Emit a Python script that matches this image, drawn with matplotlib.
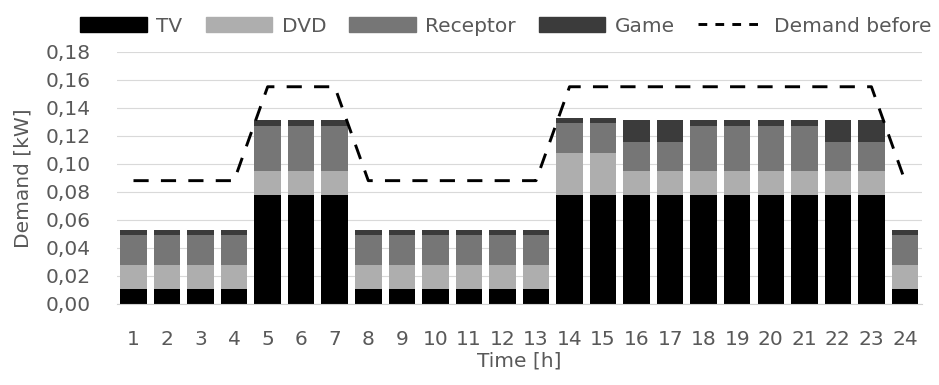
import numpy as np
import matplotlib.pyplot as plt
from matplotlib.patches import Patch
from matplotlib.lines import Line2D

hours = list(range(1, 25))

# appliance demand per hour [kW]
tv = [0.0105, 0.0105, 0.0105, 0.0105, 0.078, 0.078, 0.078, 0.0105,
      0.0105, 0.0105, 0.0105, 0.0105, 0.0105, 0.078, 0.078, 0.078,
      0.078, 0.078, 0.078, 0.078, 0.078, 0.078, 0.078, 0.0105]
dvd = [0.0175, 0.0175, 0.0175, 0.0175, 0.0166, 0.0166, 0.0166, 0.0175,
       0.0175, 0.0175, 0.0175, 0.0175, 0.0175, 0.0297, 0.0297, 0.0166,
       0.0166, 0.0166, 0.0166, 0.0166, 0.0166, 0.0166, 0.0166, 0.0175]
receptor = [0.0212, 0.0212, 0.0212, 0.0212, 0.0323, 0.0323, 0.0323, 0.0212,
            0.0212, 0.0212, 0.0212, 0.0212, 0.0212, 0.0216, 0.0216, 0.0211,
            0.0211, 0.0321, 0.0321, 0.0321, 0.0321, 0.0211, 0.0211, 0.0212]
game = [0.0036, 0.0036, 0.0036, 0.0036, 0.0041, 0.0041, 0.0041, 0.0036,
        0.0036, 0.0036, 0.0036, 0.0036, 0.0036, 0.0036, 0.0036, 0.0153,
        0.0153, 0.0043, 0.0043, 0.0043, 0.0043, 0.0153, 0.0153, 0.0036]
demand_before = [0.088, 0.088, 0.088, 0.088, 0.155, 0.155, 0.155, 0.088,
                 0.088, 0.088, 0.088, 0.088, 0.088, 0.155, 0.155, 0.155,
                 0.155, 0.155, 0.155, 0.155, 0.155, 0.155, 0.155, 0.088]

series = [tv, dvd, receptor, game]
names = ['TV', 'DVD', 'Receptor', 'Game']
colors = ['#000000', '#AEAEAE', '#767676', '#3B3B3B']

txt = '#595959'
plt.rcParams['font.family'] = 'DejaVu Sans'
plt.rcParams['font.size'] = 14.5

fig = plt.figure(figsize=(9.39, 3.85), dpi=100)
ax = fig.add_axes([0.1243, 0.2104, 0.8573, 0.6553])

# stacked bars
bottom = np.zeros(len(hours))
for vals, name, c in zip(series, names, colors):
    ax.bar(hours, vals, width=0.79, bottom=bottom, color=c, label=name, zorder=2)
    bottom += np.array(vals)

ax.plot(hours, demand_before, color='black', lw=2.1, dashes=(5.2, 4.2),
        dash_capstyle='butt', zorder=3)

ax.set_xlim(0.5, 24.5)
ax.set_ylim(0, 0.18)
yt = np.arange(0, 0.181, 0.02)
ax.set_yticks(yt)
ax.set_yticklabels([f'{v:.2f}'.replace('.', ',') for v in yt])
ax.set_xticks(hours)
ax.set_xticklabels([str(h) for h in hours])
ax.grid(axis='y', color='#D9D9D9', lw=0.8, zorder=0)
ax.set_axisbelow(True)
for s in ['top', 'right', 'left']:
    ax.spines[s].set_visible(False)
ax.spines['bottom'].set_color('#D0D0D0')
ax.spines['bottom'].set_linewidth(0.8)
ax.tick_params(axis='x', length=0, pad=19, labelcolor=txt)
ax.tick_params(axis='y', length=0, pad=18.5, labelcolor=txt)

ax.set_ylabel('Demand [kW]', color=txt)
ax.yaxis.set_label_coords(-0.104, 0.5)
ax.set_xlabel('Time [h]', color=txt)
ax.xaxis.set_label_coords(0.5, -0.19)

handles = [Patch(color=c) for c in colors]
handles.append(Line2D([], [], color='black', lw=2.1, dashes=(3.0, 2.8), dash_capstyle='butt'))
fig.legend(handles, names + ['Demand before'], loc='center', ncol=5,
           bbox_to_anchor=(506 / 939, 1 - 26 / 385), frameon=False,
           handlelength=3.3, handleheight=0.7, handletextpad=0.47,
           columnspacing=1.15, labelcolor=txt, borderaxespad=0, borderpad=0)

plt.savefig('out.png', dpi=100)
